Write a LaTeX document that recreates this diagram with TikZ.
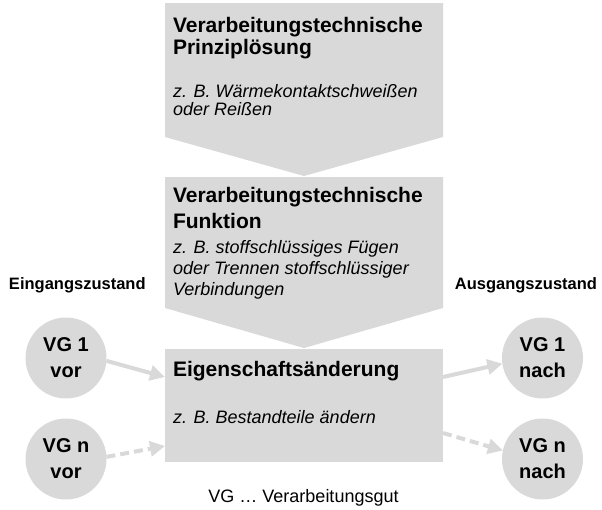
\documentclass[tikz,border=0pt]{standalone}
\usepackage{fontspec}
\setmainfont{Liberation Sans}
\usepackage{xcolor}
\usetikzlibrary{arrows.meta,positioning,calc}

\definecolor{stagegray}{HTML}{D9D9D9}

\begin{document}
\begin{tikzpicture}[
  x=1pt,y=-1pt,
  every node/.style={inner sep=0pt,outer sep=0pt},
  stage/.style={fill=stagegray},
  headline/.style={anchor=base west,align=left,font=\bfseries\fontsize{21}{22}\selectfont},
  example/.style={anchor=base west,align=left,font=\itshape\fontsize{18}{18}\selectfont},
  side/.style={font=\bfseries\fontsize{16.5}{18}\selectfont},
  state/.style={circle,fill=stagegray,minimum size=81pt,align=center,font=\bfseries\fontsize{20}{26}\selectfont},
  flow/.style={-{Triangle[length=15pt,width=15pt]},line width=4pt,draw=stagegray},
  maybeflow/.style={flow,dash pattern=on 9pt off 5pt}
]
\useasboundingbox (0,0) rectangle (602,509);

% Prinzipl\"osung und Funktion
\fill[stage] (165,3) -- (443,3) -- (443,137) -- (304,176) -- (165,137) -- cycle;
\fill[stage] (165,177) -- (443,177) -- (443,308) -- (304,348) -- (165,308) -- cycle;
\node[stage,minimum width=278pt,minimum height=113pt] (change) at (304,405.5) {};

% base = Grundlinie der letzten Zeile
\node[headline] (principle) at (173,54) {Verarbeitungstechnische\\Prinziplösung};
\node[example] (principleex) at (173,115) {z. B. Wärmekontaktschweißen\\oder Reißen};
\node[headline,font=\bfseries\fontsize{21}{26}\selectfont] (function) at (173,228) {Verarbeitungstechnische\\Funktion};
\node[example,font=\itshape\fontsize{18}{21}\selectfont] (functionex) at (173,295) {z. B. stoffschlüssiges Fügen\\oder Trennen stoffschlüssiger\\Verbindungen};
\node[headline] (changetitle) at (173,376) {Eigenschaftsänderung};
\node[example] (changeex) at (173,423) {z. B. Bestandteile ändern};

% Zust\"ande
\node[side,anchor=base west] (inlabel) at (9,289) {Eingangszustand};
\node[side,anchor=base east] (outlabel) at (597,289) {Ausgangszustand};

\node[state] (vg1in) at (66,358) {VG 1\\vor};
\node[state] (vgnin) at (66,459) {VG n\\vor};
\node[state] (vg1out) at (542.5,358) {VG 1\\nach};
\node[state] (vgnout) at (542.5,459) {VG n\\nach};

\coordinate (in1) at ([yshift=28.5pt]change.west);
\coordinate (in2) at ([yshift=-40.5pt]change.west);
\coordinate (out1) at ([yshift=28.5pt]change.east);
\coordinate (out2) at ([yshift=-27.5pt]change.east);

\draw[flow] (vg1in.-4) -- (in1);
\draw[maybeflow] (vgnin.3) -- (in2);
\draw[flow] (out1) -- (vg1out.188);
\draw[maybeflow] (out2) -- (vgnout.168);

\node[anchor=base,font=\fontsize{18}{20}\selectfont] (legend) at (303.5,502) {VG \dots{} Verarbeitungsgut};
\end{tikzpicture}
\end{document}
